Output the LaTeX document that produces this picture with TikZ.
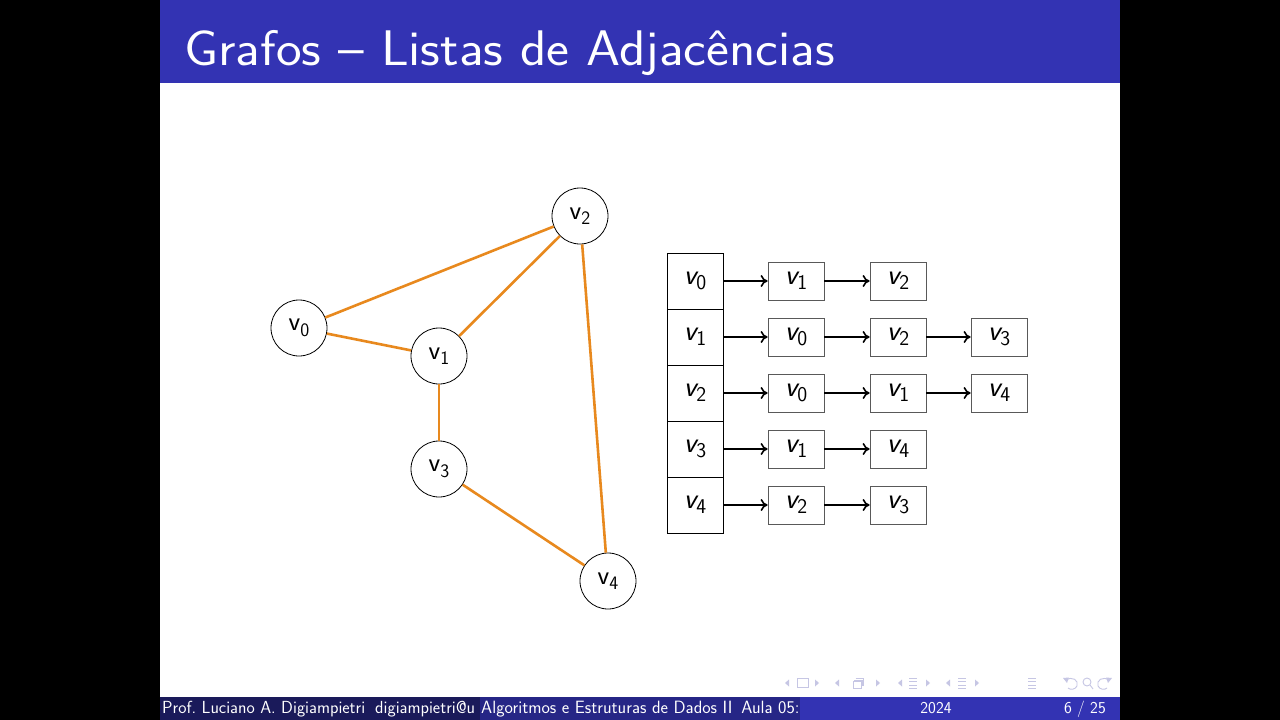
\documentclass[tikz,border=0pt]{standalone}
\usepackage{fontspec}
\usepackage{graphicx}
\usetikzlibrary{arrows.meta}
\definecolor{bstruct}{HTML}{3333B3}
\definecolor{bsec}{HTML}{262686}
\definecolor{bter}{HTML}{1A1A5A}
\definecolor{edgeor}{HTML}{E8891E}
\definecolor{navc}{HTML}{C6C6E4}
\newcommand\gv[1]{v\raisebox{-5.5pt}{\fontsize{19}{19}\selectfont #1}}
\newcommand\lv[1]{{\itshape v}\raisebox{-5.5pt}{\fontsize{21}{21}\selectfont #1}}
\begin{document}
\begin{tikzpicture}[x=1pt,y=-1pt,
  gnode/.style={circle,draw=black,line width=0.8pt,fill=white,minimum size=56pt,inner sep=0pt,font=\fontsize{27}{27}\sffamily},
  gedge/.style={draw=edgeor,line width=2.6pt},
  headbox/.style={draw=black,line width=0.8pt,minimum width=56pt,minimum height=56pt,inner sep=0pt,font=\fontsize{29}{29}\sffamily},
  elbox/.style={draw=black!65,line width=0.8pt,minimum width=56pt,minimum height=38pt,inner sep=0pt,font=\fontsize{29}{29}\sffamily},
  link/.style={-{To[length=7pt,width=12pt]},line width=1.6pt},
  foot/.style={text=white,font=\fontsize{16.6}{16.6}\sffamily,inner sep=0pt},
  navline/.style={draw=navc,line width=0.9pt},
  navfill/.style={fill=navc}
]
\useasboundingbox (0,0) rectangle (1280,720);
\fill[black] (0,0) rectangle (1280,720);
\fill[white] (160,0) rectangle (1120,720);
% title bar
\fill[bstruct] (160,0) rectangle (1120,83);
\node[anchor=base west,text=white,inner sep=0pt,xscale=1.09,font=\fontsize{50}{50}\sffamily] (title) at (184,65) {Grafos -- Listas de Adjacências};

% graph
\node[gnode] (v0) at (299,328) {\gv{0}};
\node[gnode] (v1) at (439,356) {\gv{1}};
\node[gnode] (v2) at (580,216) {\gv{2}};
\node[gnode] (v3) at (439,469) {\gv{3}};
\node[gnode] (v4) at (608,581) {\gv{4}};
\draw[gedge] (v0) -- (v2);
\draw[gedge] (v0) -- (v1);
\draw[gedge] (v1) -- (v2);
\draw[gedge] (v1) -- (v3);
\draw[gedge] (v2) -- (v4);
\draw[gedge] (v3) -- (v4);

% adjacency lists
\node[headbox] (h0) at (695,281) {\lv{0}};
\node[headbox] (h1) at (695,337) {\lv{1}};
\node[headbox] (h2) at (695,393) {\lv{2}};
\node[headbox] (h3) at (695,449) {\lv{3}};
\node[headbox] (h4) at (695,505) {\lv{4}};

\node[elbox] (a01) at (796,281) {\lv{1}};
\node[elbox] (a02) at (898,281) {\lv{2}};

\node[elbox] (a11) at (796,337) {\lv{0}};
\node[elbox] (a12) at (898,337) {\lv{2}};
\node[elbox] (a13) at (999,337) {\lv{3}};

\node[elbox] (a21) at (796,393) {\lv{0}};
\node[elbox] (a22) at (898,393) {\lv{1}};
\node[elbox] (a23) at (999,393) {\lv{4}};

\node[elbox] (a31) at (796,449) {\lv{1}};
\node[elbox] (a32) at (898,449) {\lv{4}};

\node[elbox] (a41) at (796,505) {\lv{2}};
\node[elbox] (a42) at (898,505) {\lv{3}};

\draw[link] (h0.east) -- (a01.west);
\draw[link] (a01.east) -- (a02.west);
\draw[link] (h1.east) -- (a11.west);
\draw[link] (a11.east) -- (a12.west);
\draw[link] (a12.east) -- (a13.west);
\draw[link] (h2.east) -- (a21.west);
\draw[link] (a21.east) -- (a22.west);
\draw[link] (a22.east) -- (a23.west);
\draw[link] (h3.east) -- (a31.west);
\draw[link] (a31.east) -- (a32.west);
\draw[link] (h4.east) -- (a41.west);
\draw[link] (a41.east) -- (a42.west);

% navigation symbols
\foreach \x in {787,837,900,948} {\fill[navfill] (\x+2,679.5) -- (\x-2,683) -- (\x+2,686.5) -- cycle;}
\foreach \x in {817,878,928,977} {\fill[navfill] (\x-2,679.5) -- (\x+2,683) -- (\x-2,686.5) -- cycle;}
\draw[navline] (797,678.5) rectangle (808,687.5);
\draw[navline] (853,681) rectangle (861,688);
\draw[navline] (855.5,678.5) -- (863.5,678.5) -- (863.5,685.5);
\draw[navline] (854,680) -- (862,680) -- (862,686);
\foreach \x in {913,962,1032} {
  \draw[navline] (\x-4,678) -- (\x+4,678);
  \draw[navline] (\x-4,681.5) -- (\x+4,681.5);
  \draw[navline] (\x-4,685) -- (\x+4,685);
  \draw[navline] (\x-4,688.5) -- (\x+4,688.5);
}
\draw[navline] (1066,680) .. controls (1072,676) and (1079,680) .. (1077,686) .. controls (1075,690) and (1070,690) .. (1068,688);
\fill[navfill] (1063,678) -- (1069,677.5) -- (1067,683) -- cycle;
\draw[navline] (1087,682) circle[radius=4];
\draw[navline] (1090,685) -- (1093,689);
\draw[navline] (1109,680) .. controls (1103,676) and (1096,680) .. (1098,686) .. controls (1100,690) and (1105,690) .. (1107,688);
\fill[navfill] (1112,678) -- (1106,677.5) -- (1108,683) -- cycle;

% footer
\fill[bter] (160,697) rectangle (480,720);
\fill[bsec] (480,697) rectangle (800,720);
\fill[bstruct] (800,697) rectangle (1120,720);
\begin{scope}
  \clip (160,697) rectangle (480,720);
  \node[foot,anchor=base west,font=\fontsize{17.5}{17.5}\sffamily] (author) at (162,713) {Prof.\ Luciano A. Digiampietri\hspace{10pt}digiampietri@u};
\end{scope}
\begin{scope}
  \clip (480,697) rectangle (800,720);
  \node[foot,anchor=base west,font=\fontsize{17.8}{17.8}\sffamily] (course) at (481,713) {Algoritmos e Estruturas de Dados II\hspace{9pt}Aula 05:};
\end{scope}
\node[foot,anchor=base] (year) at (936,713) {2024};
\node[foot,anchor=base east] (page) at (1106,713) {6 / 25};
\end{tikzpicture}
\end{document}
